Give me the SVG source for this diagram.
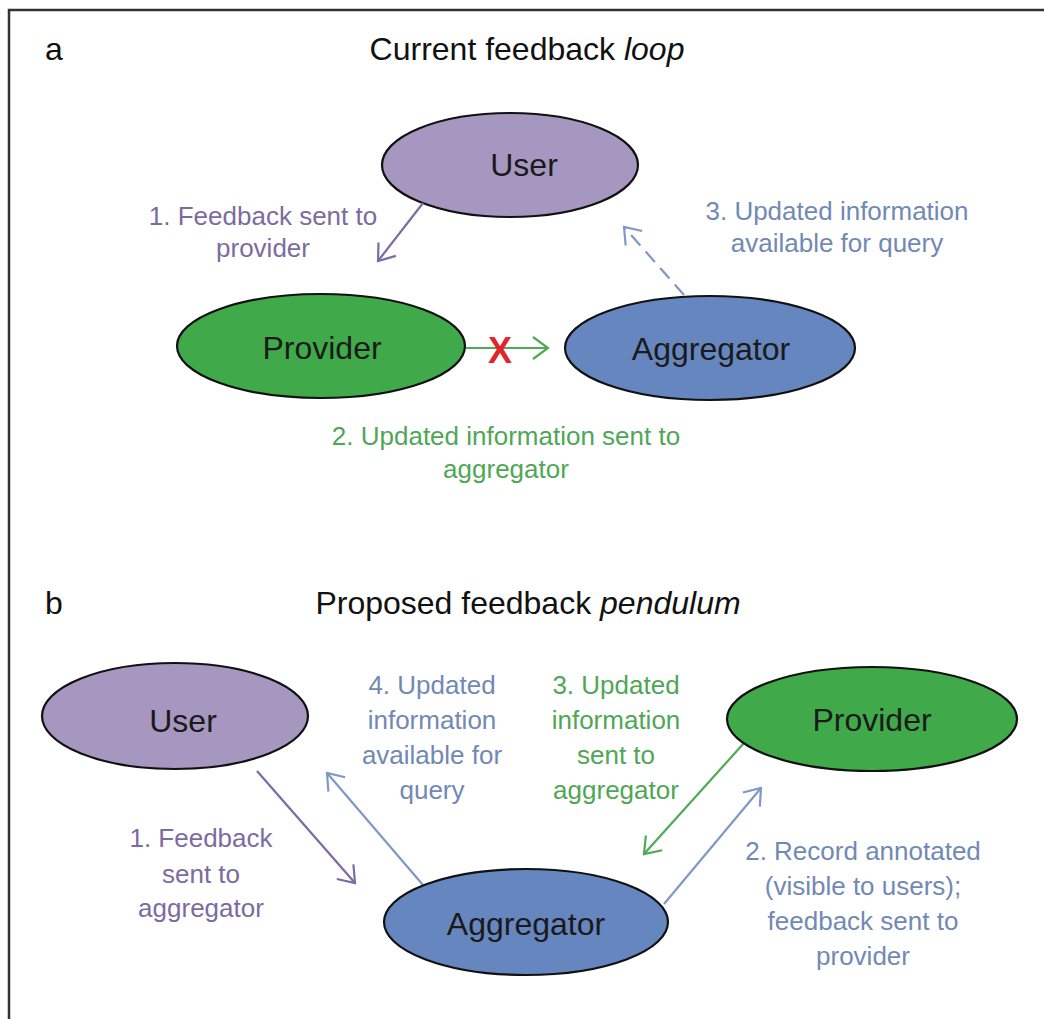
<svg xmlns="http://www.w3.org/2000/svg" width="1044" height="1019" viewBox="0 0 1044 1019">
<style>
text{font-family:"Liberation Sans",Arial,sans-serif;text-anchor:middle}
.hdr{font-size:32px;fill:#111}
.node{font-size:32px;fill:#1a1a1a}
.lbl{font-size:26px}
.pur{fill:#7b6c9f}
.grn{fill:#4fa755}
.blu{fill:#7189b5}
.ell{stroke:#111;stroke-width:2.2}
.ln{fill:none;stroke-width:2.2}
</style>
<defs>
<marker id="hP" markerUnits="userSpaceOnUse" markerWidth="22" markerHeight="26" refX="17" refY="13" orient="auto"><path d="M2,2 L17,13 L2,24" fill="none" stroke="#7a6ca3" stroke-width="2.2"/></marker>
<marker id="hG" markerUnits="userSpaceOnUse" markerWidth="22" markerHeight="26" refX="17" refY="13" orient="auto"><path d="M2,2 L17,13 L2,24" fill="none" stroke="#4faa55" stroke-width="2.2"/></marker>
<marker id="hB" markerUnits="userSpaceOnUse" markerWidth="22" markerHeight="26" refX="17" refY="13" orient="auto"><path d="M2,2 L17,13 L2,24" fill="none" stroke="#7f98c6" stroke-width="2.2"/></marker>
</defs>
<rect width="1044" height="1019" fill="#fff"/>
<rect x="9" y="10" width="1060" height="1040" fill="none" stroke="#333" stroke-width="2.5"/>
<g id="panel-a-titles">
<text class="hdr" x="54" y="60">a</text>
<text class="hdr" x="527" y="60">Current feedback <tspan font-style="italic">loop</tspan></text>
</g>
<g id="a-user"><ellipse class="ell" cx="510" cy="165" rx="128" ry="52" fill="#a697c0"/><text class="node" x="524" y="176">User</text></g>
<g id="a-provider"><ellipse class="ell" cx="321" cy="346" rx="144" ry="52" fill="#40aa4a"/><text class="node" x="322" y="359">Provider</text></g>
<g id="a-aggregator"><ellipse class="ell" cx="710" cy="348" rx="145" ry="52" fill="#6686bf"/><text class="node" x="711" y="360">Aggregator</text></g>
<g id="connectors">
<path class="ln" d="M423,203 L378,261" stroke="#7a6ca3" marker-end="url(#hP)"/>
<path class="ln" d="M466,348 L548,348" stroke="#4faa55" marker-end="url(#hG)"/>
<path class="ln" d="M684,295 L624,227" stroke="#7f98c6" stroke-dasharray="14 8" marker-end="url(#hB)"/>
<path class="ln" d="M257,771 L355,883" stroke="#7a6ca3" marker-end="url(#hP)"/>
<path class="ln" d="M423,885 L327,773" stroke="#7f98c6" marker-end="url(#hB)"/>
<path class="ln" d="M744,743 L644,854" stroke="#4faa55" marker-end="url(#hG)"/>
<path class="ln" d="M664,904 L761,788" stroke="#7f98c6" marker-end="url(#hB)"/>
</g>
<g id="a-labels">
<text x="500" y="363" font-size="36" font-weight="bold" fill="#e0262b">X</text>
<text class="lbl pur" x="263" y="225">1. Feedback sent to</text>
<text class="lbl pur" x="263" y="257">provider</text>
<text class="lbl blu" x="837" y="220">3. Updated information</text>
<text class="lbl blu" x="837" y="252">available for query</text>
<text class="lbl grn" x="506" y="445">2. Updated information sent to</text>
<text class="lbl grn" x="506" y="478">aggregator</text>
</g>
<g id="panel-b-titles">
<text class="hdr" x="54" y="614">b</text>
<text class="hdr" x="528" y="614">Proposed feedback <tspan font-style="italic">pendulum</tspan></text>
</g>
<g id="b-user"><ellipse class="ell" cx="175" cy="716" rx="133" ry="53" fill="#a697c0"/><text class="node" x="183" y="732">User</text></g>
<g id="b-provider"><ellipse class="ell" cx="872" cy="719" rx="145" ry="52" fill="#40aa4a"/><text class="node" x="872" y="731">Provider</text></g>
<g id="b-aggregator"><ellipse class="ell" cx="526" cy="922" rx="142" ry="53" fill="#6686bf"/><text class="node" x="526" y="935">Aggregator</text></g>
<g id="b-labels">
<text class="lbl blu" x="432" y="694">4. Updated</text>
<text class="lbl blu" x="432" y="729">information</text>
<text class="lbl blu" x="432" y="764">available for</text>
<text class="lbl blu" x="432" y="799">query</text>
<text class="lbl grn" x="616" y="694">3. Updated</text>
<text class="lbl grn" x="616" y="729">information</text>
<text class="lbl grn" x="616" y="764">sent to</text>
<text class="lbl grn" x="616" y="799">aggregator</text>
<text class="lbl pur" x="201" y="847">1. Feedback</text>
<text class="lbl pur" x="201" y="883">sent to</text>
<text class="lbl pur" x="201" y="917">aggregator</text>
<text class="lbl blu" x="863" y="860">2. Record annotated</text>
<text class="lbl blu" x="863" y="895">(visible to users);</text>
<text class="lbl blu" x="863" y="930">feedback sent to</text>
<text class="lbl blu" x="863" y="965">provider</text>
</g>
</svg>
